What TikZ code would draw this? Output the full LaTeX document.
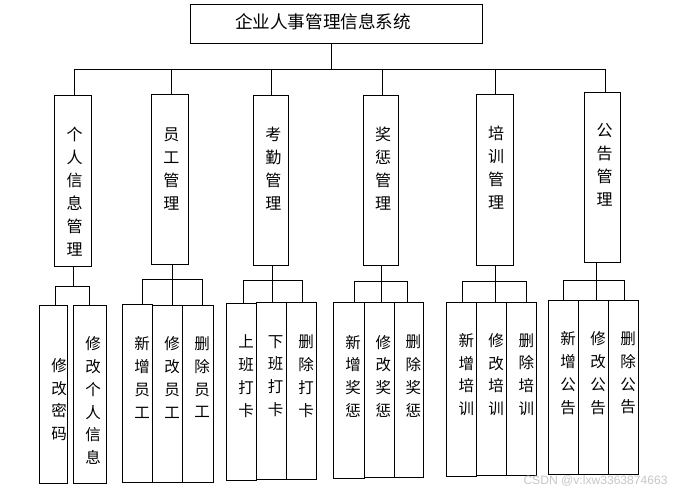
\documentclass[tikz,border=0pt]{standalone}
\usepackage{fontspec}
\newfontfamily\cjk{Noto Sans CJK SC}
\newfontfamily\wmfont{Liberation Sans}
\usetikzlibrary{fit}
\tikzset{
  box/.style={draw, line width=1pt, inner sep=0pt, outer sep=0pt},
  conn/.style={line width=1pt},
  lvone/.style={font=\cjk\fontsize{17.6}{20}\selectfont, inner sep=0pt},
  lvtwo/.style={font=\cjk\fontsize{16}{23}\selectfont, align=center, inner sep=0pt, anchor=north},
  lvthree/.style={font=\cjk\fontsize{15.5}{22.7}\selectfont, align=center, inner sep=0pt, anchor=north},
  wm/.style={font=\wmfont\fontsize{12.1}{13}\selectfont, text=black!22, inner sep=0pt, anchor=west}
}
\begin{document}
\begin{tikzpicture}[x=1pt,y=-1pt]
\useasboundingbox[fill=white] (0,0) rectangle (682,495);
% root
\node[box, fit={(190.3,4.3) (482.3,44)}] (root) {};
\node[lvone] (troot) at (323,22) {企业人事管理信息系统};
% level 2 boxes
\node[box, fit={(54.3,95.3) (91.3,266)}] (b1) {};
\node[box, fit={(151.3,94.3) (188.3,264)}] (b2) {};
\node[box, fit={(253.3,95.3) (288.3,265.3)}] (b3) {};
\node[box, fit={(363.3,95.3) (398.3,265.3)}] (b4) {};
\node[box, fit={(476.3,94.3) (513.3,265.3)}] (b5) {};
\node[box, fit={(584.3,92.3) (620.3,262.3)}] (b6) {};
\node[lvtwo] (t1) at (74.7,126.5) {个\\人\\信\\息\\管\\理};
\node[lvtwo] (t2) at (171.3,127.5) {员\\工\\管\\理};
\node[lvtwo] (t3) at (273.3,126.5) {考\\勤\\管\\理};
\node[lvtwo] (t4) at (383,126.5) {奖\\惩\\管\\理};
\node[lvtwo] (t5) at (496.2,126) {培\\训\\管\\理};
\node[lvtwo] (t6) at (604.5,123.5) {公\\告\\管\\理};
% level 3 boxes
\node[box, fit={(39.3,305.3) (67.3,483.3)}] (c11) {};
\node[box, fit={(73.3,305.3) (106.3,483.3)}] (c12) {};
\node[box, fit={(122.3,304.3) (152.7,482.3)}] (c21) {};
\node[box, fit={(152.7,305.3) (182.3,482.3)}] (c22) {};
\node[box, fit={(182.3,305.3) (213.3,482.3)}] (c23) {};
\node[box, fit={(226.3,303.3) (256.3,480.3)}] (c31) {};
\node[box, fit={(256.3,302.3) (286.7,479)}] (c32) {};
\node[box, fit={(286.7,302.3) (316.3,479)}] (c33) {};
\node[box, fit={(333.3,302.3) (364,478.3)}] (c41) {};
\node[box, fit={(364,302.3) (394.3,477)}] (c42) {};
\node[box, fit={(394.3,302.3) (423.3,477)}] (c43) {};
\node[box, fit={(446.3,302.3) (476.3,476)}] (c51) {};
\node[box, fit={(476.3,302.3) (506.7,475)}] (c52) {};
\node[box, fit={(506.7,302.3) (536.3,475)}] (c53) {};
\node[box, fit={(548.3,300.3) (578.3,474)}] (c61) {};
\node[box, fit={(578.3,300.3) (608.3,474)}] (c62) {};
\node[box, fit={(608.3,300.3) (638.7,474)}] (c63) {};
\node[lvthree] (s11) at (59,358.3) {修\\改\\密\\码};
\node[lvthree] (s12) at (93,336.7) {修\\改\\个\\人\\信\\息};
\node[lvthree] (s21) at (142,336.7) {新\\增\\员\\工};
\node[lvthree] (s22) at (172,336.7) {修\\改\\员\\工};
\node[lvthree] (s23) at (202,336.7) {删\\除\\员\\工};
\node[lvthree] (s31) at (246,335) {上\\班\\打\\卡};
\node[lvthree] (s32) at (275.7,335) {下\\班\\打\\卡};
\node[lvthree] (s33) at (306,335) {删\\除\\打\\卡};
\node[lvthree] (s41) at (353,335) {新\\增\\奖\\惩};
\node[lvthree] (s42) at (383.3,335) {修\\改\\奖\\惩};
\node[lvthree] (s43) at (413.3,335) {删\\除\\奖\\惩};
\node[lvthree] (s51) at (466.3,333.3) {新\\增\\培\\训};
\node[lvthree] (s52) at (496.2,333.3) {修\\改\\培\\训};
\node[lvthree] (s53) at (526.3,333.3) {删\\除\\培\\训};
\node[lvthree] (s61) at (568,331.7) {新\\增\\公\\告};
\node[lvthree] (s62) at (598,331.7) {修\\改\\公\\告};
\node[lvthree] (s63) at (628,331.7) {删\\除\\公\\告};
% main connectors
\coordinate (bus) at (331.7,69.3);
\draw[conn] (root.south -| bus) -- (bus);
\draw[conn] (bus) -| ([xshift=1.5pt]b1.north);
\draw[conn] (bus) -| ([xshift=1.7pt]b2.north);
\draw[conn] (bus) -| ([xshift=0.2pt]b3.north);
\draw[conn] (bus) -| ([xshift=1.2pt]b4.north);
\draw[conn] (bus) -| ([xshift=0.2pt]b5.north);
\draw[conn] (bus) -| ([xshift=3pt]b6.north);
% group junctions
\coordinate (j1) at (73.3,286.7);
\coordinate (j2) at (172.3,279.3);
\coordinate (j3) at (272.3,280.3);
\coordinate (j4) at (381.3,281.3);
\coordinate (j5) at (495.3,281.3);
\coordinate (j6) at (596.3,280.3);
\draw[conn] (b1.south -| j1) -- (j1);
\draw[conn] (b2.south -| j2) -- (j2);
\draw[conn] (b3.south -| j3) -- (j3);
\draw[conn] (b4.south -| j4) -- (j4);
\draw[conn] (b5.south -| j5) -- (j5);
\draw[conn] (b6.south -| j6) -- (j6);
\draw[conn] (j1) -| ([xshift=1.7pt]c11.north);
\draw[conn] (j1) -| ([xshift=-0.5pt]c12.north);
\draw[conn] (j2) -| ([xshift=4.8pt]c21.north);
\draw[conn] (j2) -| ([xshift=4.8pt]c22.north);
\draw[conn] (j2) -| ([xshift=4.5pt]c23.north);
\draw[conn] (j3) -| ([xshift=2pt]c31.north);
\draw[conn] (j3) -| ([xshift=0.8pt]c32.north);
\draw[conn] (j3) -| ([xshift=0.8pt]c33.north);
\draw[conn] (j4) -| ([xshift=5.6pt]c41.north);
\draw[conn] (j4) -| ([xshift=2.1pt]c42.north);
\draw[conn] (j4) -| ([xshift=-1.5pt]c43.north);
\draw[conn] (j5) -| ([xshift=1pt]c51.north);
\draw[conn] (j5) -| ([xshift=3.8pt]c52.north);
\draw[conn] (j5) -| ([xshift=4.8pt]c53.north);
\draw[conn] (j6) -| (c61.north);
\draw[conn] (j6) -| ([xshift=3pt]c62.north);
\draw[conn] (j6) -| ([xshift=0.8pt]c63.north);
% watermark
\node[wm] (mark) at (523.3,481) {CSDN @v:lxw3363874663};
\end{tikzpicture}
\end{document}
